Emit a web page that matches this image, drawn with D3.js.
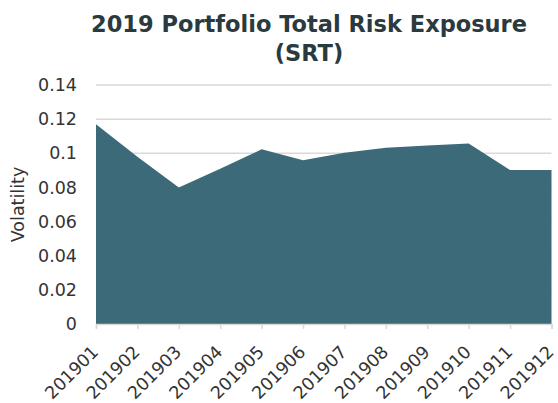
<!DOCTYPE html>
<html><head><meta charset="utf-8">
<script src="https://cdn.jsdelivr.net/npm/d3@7"></script>
<style>body{margin:0;background:#fff}svg{display:block}</style>
</head><body>
<script>
const categories = ["201901","201902","201903","201904","201905","201906","201907","201908","201909","201910","201911","201912"];
const volatility = [0.117,0.098,0.080,0.091,0.1023,0.0959,0.1003,0.1033,0.1045,0.1057,0.0902,0.0902];
const yTicks = [0,0.02,0.04,0.06,0.08,0.1,0.12,0.14];
const titleLines = ["2019 Portfolio Total Risk Exposure","(SRT)"];
const yLabel = "Volatility";

const W=558,H=403;
const m={l:96,r:6.5,t:85,b:79};
const svg=d3.select("body").append("svg").attr("width",W).attr("height",H);
const x=d3.scalePoint().domain(categories).range([m.l,W-m.r]);
const y=d3.scaleLinear().domain([0,0.14]).range([H-m.b,m.t]);
const font="DejaVu Sans, Verdana, sans-serif";

// gridlines
svg.append("g").selectAll("line").data(yTicks.slice(1)).join("line")
 .attr("x1",m.l).attr("x2",W-m.r).attr("y1",d=>y(d)).attr("y2",d=>y(d))
 .attr("stroke","#d9d9d9").attr("stroke-width",1.5);

// area
const area=d3.area().x((d,i)=>x(categories[i])).y0(y(0)).y1(d=>y(d));
svg.append("path").datum(volatility).attr("d",area).attr("fill","#3d6a79");

// y axis
const ya=svg.append("g").attr("transform",`translate(${m.l},0)`)
 .call(d3.axisLeft(y).tickValues(yTicks).tickSize(0).tickPadding(19).tickFormat(d=>String(d)));
ya.select(".domain").remove();
ya.selectAll("text").attr("font-family",font).attr("font-size",17.5).attr("fill","#333");

// x axis
const xa=svg.append("g").attr("transform",`translate(0,${y(0)})`)
 .call(d3.axisBottom(x).tickSize(5).tickPadding(4));
xa.select(".domain").attr("stroke","#d9d9d9").attr("stroke-width",1.5);
xa.selectAll(".tick line").attr("stroke","#d9d9d9").attr("stroke-width",1.5);
xa.selectAll("text").attr("font-family",font).attr("font-size",17.5).attr("fill","#333")
 .attr("text-anchor","end").attr("x",0).attr("y",0).attr("dy",0)
 .attr("transform","translate(3,29) rotate(-45)");

// y label
svg.append("text").attr("transform",`translate(24,${(y(0)+y(0.14))/2}) rotate(-90)`)
 .attr("text-anchor","middle").attr("font-family",font).attr("font-size",17.5).attr("fill","#333").text(yLabel);

// title
svg.append("g").selectAll("text").data(titleLines).join("text")
 .attr("x",309).attr("y",(d,i)=>32+i*29).attr("text-anchor","middle")
 .attr("font-family",font).attr("font-weight","bold").attr("font-size",22.5).attr("fill","#2b3a3e").text(d=>d);
</script>
</body></html>
